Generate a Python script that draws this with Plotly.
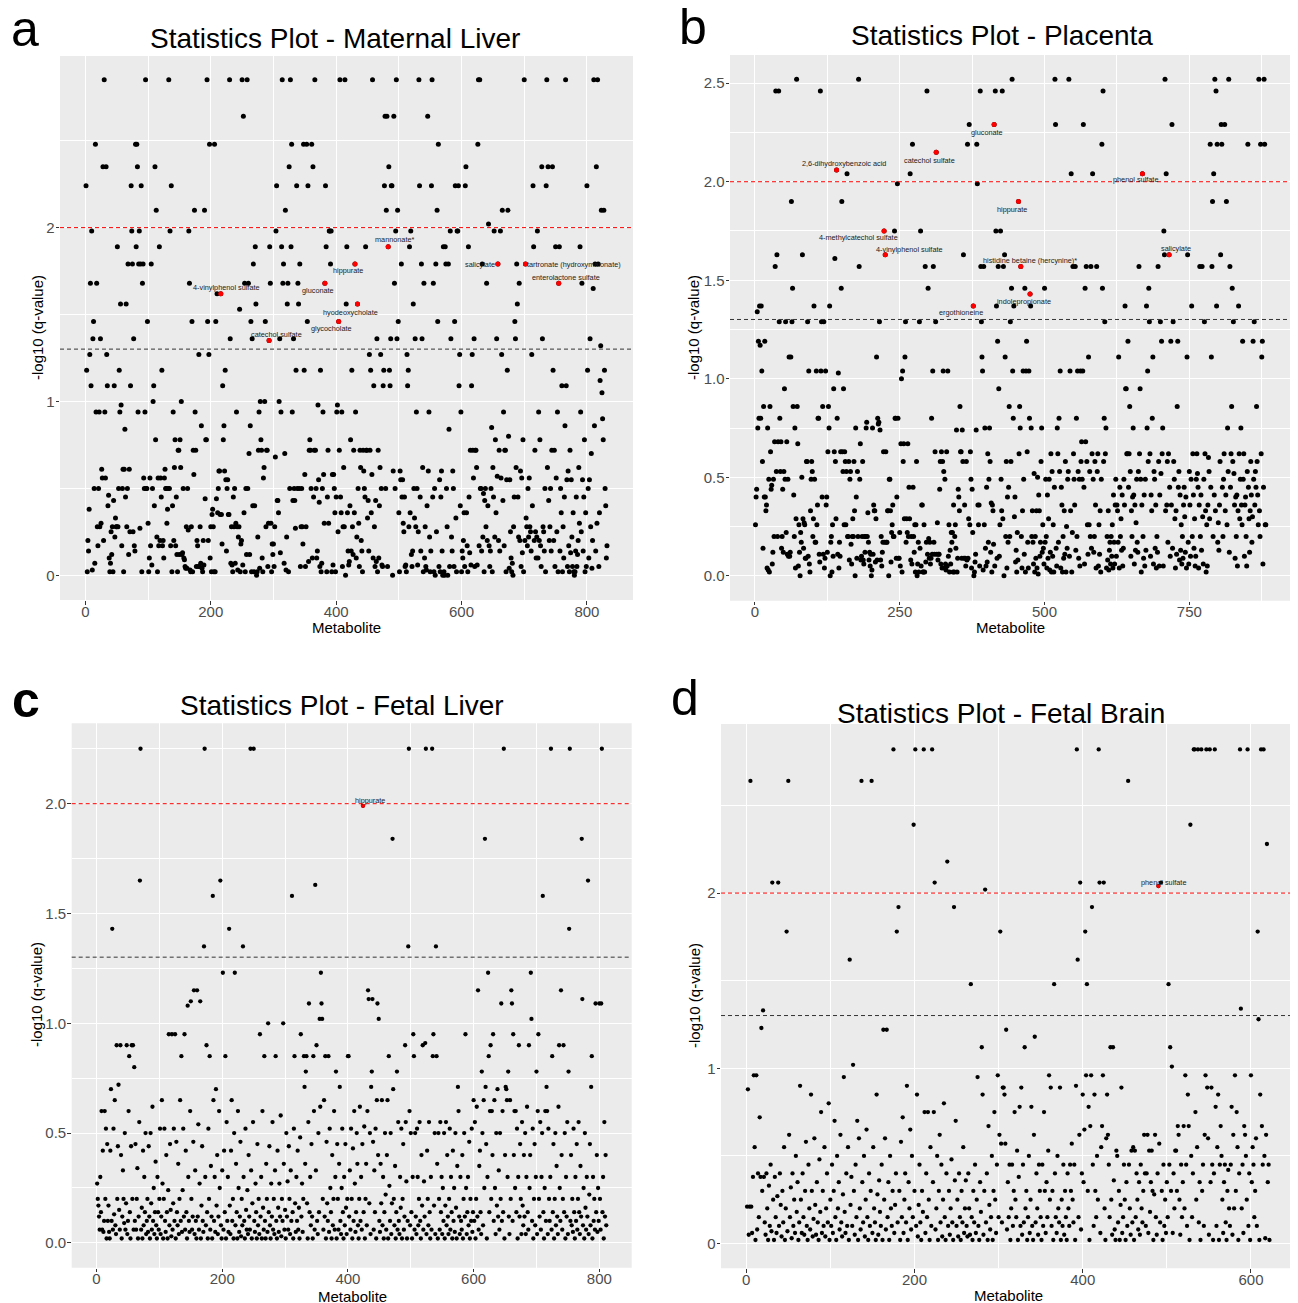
import plotly.graph_objects as go

W, H = 1298, 1303
OFF = 8  # page body margin compensation (px)

# ---------------- data: -log10(q-value) per metabolite, rows of 20 metabolites ----------------
ml_rows = [
 [2.24,1.18,.02,.2,.14,.38,1.27,1.68,1.09,1.98,.03,1.36,1.46,.5,.07,2.48,.94,1.68,.28,.17],
 [.5,.94,.28,1.36,.3,.61,.56,2.35,.2,2.85,.94,.56,2.35,1.27,1.09,.4,.46,.1,.02,.07],
 [.25,.12,.28,.02,.43,1.09,.22,.33,.28,.28,1.89,.28,.5,1.18,.94,1.56,.98,.17,.5,.61],
 [.02,.61,.84,.45,1.56,.28,.5,1.79,.12,.61,.25,1.09,2.24,1.98,1.79,.25,1.36,.17,.14,2.48],
 [1.89,2.48,2.35,.94,1.79,1.98,.27,1.79,2.24,.02,1.68,1.79,.56,.5,.94,2.85,.5,.5,1.46,.3],
 [.02,.1,.56,.17,1.79,.06,.5,1.0,1.09,.4,2.35,.78,2.1,.22,.02,.56,.17,1.89,.2,.56],
 [.45,1.18,.17,.2,.1,.56,.61,.5,.5,.3,.38,.5,2.85,.5,1.98,.17,2.24,.02,.4,.94],
 [.2,.62,.78,.17,.45,.12,.02,.72,.72,.12,.78,.62,1.0,.12,.13,.5,.1,.09,.05,.04],
 [.28,.04,.5,.26,1.98,1.68,.03,.02,.28,1.46,.02,.72,.58,2.1,.94,.72,.05,.2,.17,.05],
 [1.27,.05,.28,.07,.86,.04,.02,.2,.06,2.1,.44,.78,.78,2.85,1.46,.2,1.27,2.48,.1,.28],
 [.02,.35,.38,.28,.02,2.48,.02,1.46,.44,1.62,.36,.5,.6,.6,.35,1.62,.35,.18,1.09,.78],
 [.86,.6,1.18,.55,.14,.5,.55,.35,.35,2.85,1.36,.07,.28,.06,.02,.45,.28,.5,.07,.3],
 [.94,.28,.03,.22,.28,1.53,.02,.18,.2,2.85,.06,2.64,.36,1.68,.02,.5,.12,2.85,.5,1.68],
 [.7,.12,.86,1.46,.02,1.36,.4,1.79,.02,.4,1.89,1.56,0,.02,.22,.72,.94,.04,1.0,.78],
 [.72,.1,.02,.56,.62,1.0,1.46,.28,.72,.72,.05,.3,1.35,1.89,1.68,.3,.02,.18,.12,.18],
 [.05,.28,.68,1.98,2.24,.43,.43,.36,1.0,1.36,.13,.94,1.89,2.85,1.68,1.79,.07,.7,2.1,.03],
 [.22,1.56,1.68,.02,2.35,.5,2.85,1.89,2.48,.94,.43,1.36,.5,.43,.27,1.18,2.24,.5,1.68,1.56],
 [.5,1.79,.05,.28,.5,.28,.18,2.48,1.18,.58,.05,.28,2.48,1.46,2.24,.08,.72,.78,.72,.5],
 [2.48,.1,2.35,.45,.72,2.85,.72,.5,.1,.14,.98,.55,.42,.05,1.18,.02,.07,.5,.94,.58],
 [.3,1.68,2.24,1.89,.02,.45,.72,.3,1.98,1.98,1.79,1.98,.02,.58,.06,.58,.5,.36,.02,.45],
 [.94,.98,.25,1.46,.72,2.85,.45,.36,.94,.05,.28,.62,.28,2.85,0,1.56,1.89,.36,.14,.06],
 [.08,.4,.78,.14,1.18,.28,.12,.72,.36,1.79,.94,.1,.22,1.56,.5,.3,.05,.72,.62,.2],
 [.14,.02,.72,.6,.5,.45,1.89,.72,.72,.33,.43,.14,1.27,.72,1.18,.36,.58,2.85,.1,1.09],
 [.28,.05,.43,.08,1.36,.02,.72,.1,.4,.62,1.27,.5,.06,.05,1.09,1.18,2.24,2.64,.5,2.1],
 [2.64,.05,1.89,2.35,1.18,1.09,1.36,2.24,2.24,0,.6,2.64,1.68,.5,1.98,2.85,1.36,2.1,1.46,.36],
 [.02,.6,.55,1.79,.45,.55,.3,.25,.45,.05,.06,.02,1.27,1.09,1.18,.28,1.89,.36,1.98,.12],
 [.05,.14,1.56,.5,.33,1.36,.28,.94,.5,.06,.25,2.85,2.24,.45,.14,1.79,1.36,.62,.02,1.68],
 [.1,.28,.05,.03,.4,2.64,.6,.94,.22,.02,.14,2.24,2.85,.45,1.68,.02,.5,0,1.79,.25],
 [2.1,1.46,2.48,.05,.55,.02,.45,.6,.14,0,1.89,.02,0,1.89,1.79,.5,.28,0,1.79,.84],
 [.05,1.98,1.36,.22,.14,.6,.5,.05,1.46,2.24,.33,.02,1.98,1.98,2.24,1.09,1.27,.4,.94,.02],
 [.14,.1,.2,.36,.05,2.24,2.35,.36,.17,.02,1.89,.45,.13,.72,.06,1.09,1.27,.72,.56,1.36],
 [.05,.72,.72,.62,.06,2.48,2.85,.17,2.85,.5,.5,.14,1.79,.22,.47,.02,.43,.5,.28,1.68],
 [.2,.4,2.02,.17,.05,.14,.5,.85,.02,.62,.45,1.98,.22,.78,.36,1.36,.57,1.79,.2,.72],
 [.14,1.98,.56,1.27,2.1,.43,.94,.17,.72,.72,.02,.55,1.18,2.1,.8,.04,.55,.25,.1,.02],
 [.07,0,.28,.45,1.46,1.36,.62,1.79,1.56,.45,.22,1.68,.2,.6,.05,.56,.13,.78,.02,2.85],
 [.2,1.79,.33,.28,.17,.5,.22,.56,.28,.25,.14,1.27,.4,2.24,1.89,.2,.72,.25,.1,.22],
 [1.98,.1,.94,.2,.78,.17,.05,2.35,1.36,.28,.25,.14,.5,.02,2.24,2.85,.62,2.35,.43,.2],
 [.28,.5,.14,.72,2.35,1.18,.2,.72,.05,1.89,.56,.25,.94,.02,1.68,1.89,.14,.5,.36,1.09],
 [.02,.28,.1,.45,.86,2.85,1.09,.55,.05,.6,.17,.02,.72,.13,.55,.22,.05,.36,.02,0],
 [.02,.14,.45,.05,.12,.2,.62,.3,1.89,.94,.25,1.68,.55,.14,.45,.78,.02,.36,.05,2.24],
 [1.18,.5,.1,.55,1.36,.28,.7,.04,.2,1.65,2.85,.86,1.79,.14,2.35,.3,2.85,1.79,.05,.36],
 [1.12,1.32,2.1,1.05,.9,.78,2.1,1.18,.5,.4,.1,.17],
]

pl_rows = [
 [.26,.4,.44,1.34,.75,1.19,.8,1.37,1.17,.8,1.37,1.04,.58,.14,.86,.4,1.19,.4,.33,.36],
 [.04,.75,.03,.49,.02,.86,.63,.44,.46,.06,.12,.49,.2,.68,1.57,2.46,.53,1.63,.2,.68],
 [2.46,1.29,.8,.53,.68,.14,.2,.44,.12,.53,.95,.49,1.29,.22,.68,.11,.49,.1,1.11,.1],
 [.12,1.11,1.9,1.29,1.46,.86,.41,.2,.75,.04,.29,2.52,.86,.67,.05,.26,.12,0,.22,.17],
 [.5,1.63,.29,.14,.27,.26,.09,.09,.58,.58,1.29,.1,1.04,.06,.02,.33,.49,.58,.53,.2],
 [.29,1.37,.49,.17,.17,1.04,.26,.36,.8,.8,.11,.07,2.46,1.04,1.29,.4,.86,.11,1.29,.04],
 [.09,1.04,.36,.4,.12,.63,.86,.75,1.37,0,.17,.2,.02,.26,.1,.95,.63,1.61,.58,.29],
 [2.06,.8,.11,1.03,.04,.17,.1,.63,1.46,1.9,.63,.53,.95,.26,.63,.58,.26,.53,2.04,.2],
 [.2,.58,.08,.49,.53,.16,.06,.2,.29,.2,.58,.33,0,.75,.4,.09,.53,.2,2.52,1.57],
 [.49,.67,.08,.1,.2,.58,.08,.06,.2,.12,.2,.75,.78,.2,.32,.17,.08,.12,.05,.11],
 [0,.03,.75,.11,.36,.33,.33,.07,.29,1.11,.08,.8,.77,.78,1.29,.74,.08,.2,.05,.12],
 [.17,.63,1.75,.17,1.63,.63,.17,.17,.33,.33,0,.49,.49,.33,.07,.22,.26,.36,.2,.2],
 [1.75,.8,.8,.09,.4,1.99,.8,.09,.09,.22,.05,.67,1.0,.02,1.04,.58,.67,.29,1.11,1.29],
 [.17,.29,.22,.67,.2,.45,.29,2.04,.08,.2,.06,2.19,.45,.2,.12,.26,.02,.26,.58,0],
 [.06,.17,.02,1.29,.14,1.75,.05,.36,.36,.02,.02,.26,.02,1.57,.07,.17,2.46,.11,1.46,.19],
 [.09,.17,.06,.09,.8,.11,1.04,1.57,.17,.11,.63,1.29,2.15,.11,.27,.08,.11,.11,.44,.58],
 [.06,.63,.04,.58,1.04,.53,.04,.49,.06,.03,.63,.05,1.04,.1,.26,.02,.13,.06,.22,.17],
 [.22,.02,.36,.02,.2,.26,.14,.74,.02,.09,.44,.4,.33,.86,.63,.63,.09,.74,.58,1.63],
 [.09,.36,.09,.05,.58,.08,2.19,.09,.29,2.29,.26,.63,.49,.04,.44,.22,1.37,0,.02,.07],
 [.11,.74,2.19,1.99,.36,.26,.36,.05,2.46,1.57,1.29,1.11,1.04,.03,1.57,.26,.75,.14,.05,.45],
 [.07,.62,.17,.49,.75,.58,.12,.37,.02,.36,.33,.16,2.29,.05,2.46,1.75,1.37,.09,1.19,1.57],
 [.95,.1,.26,1.75,.49,.33,2.46,.29,1.57,0,1.63,1.11,.2,.58,.04,.4,.17,.45,.86,.2],
 [1.29,.58,1.46,2.52,1.04,.8,1.37,.3,.4,.07,.13,.02,.22,.08,1.9,.62,.86,.75,1.57,.2],
 [.04,.33,1.04,.49,.11,1.46,.02,1.04,1.19,.63,.17,.04,1.04,.8,1.43,1.37,.75,.2,.33,.17],
 [.06,.52,.02,.2,.09,.33,.04,.5,.01,.41,.33,.1,.17,.58,.75,.12,.26,.14,.06,1.46],
 [.17,.49,.2,.04,.41,.09,.29,.49,.03,.12,.62,.02,.53,.1,.26,.02,.45,2.52,2.29,.14],
 [.05,.75,.62,.17,.8,.53,1.04,.04,.45,.36,.02,.2,.09,.33,.11,.58,.02,.25,.14,.49],
 [.53,2.52,.1,1.04,.33,2.04,.02,.22,1.57,.62,.49,.36,1.57,.13,.8,.2,1.04,.53,.09,.49],
 [.05,1.04,.58,.68,.49,1.04,2.29,.45,.06,1.46,.68,1.57,.58,.26,.11,1.11,.26,.53,.2,1.57],
 [.14,.62,2.04,.49,.12,.2,.58,.36,.04,1.57,.53,.62,.05,.26,.11,.33,.02,.49,2.19,1.46],
 [2.46,.58,.8,1.29,.62,.75,.04,.2,.08,.33,.03,.13,.17,.06,.2,.1,.26,.04,.41,.17],
 [.06,.36,.49,.1,.36,.33,.17,1.11,.04,.45,.2,.29,.13,.41,.05,.14,.49,.36,1.37,.95],
 [.95,.62,.62,1.19,.45,.62,.86,.53,.1,.33,.2,.4,.75,.41,.06,.36,.13,.27,.49,.17],
 [.12,.53,1.57,.62,.95,.49,.02,.36,2.04,.2,.09,.41,.05,.49,.13,1.37,.75,1.04,.58,1.46],
 [1.29,.62,.1,.41,.33,.8,1.11,.06,.53,.49,.14,.36,.04,.2,.12,1.57,.58,.05,.41,1.29],
 [.52,1.19,.62,.75,.05,1.75,1.63,2.52,.33,2.04,.36,.58,.17,.62,1.63,.45,.1,1.19,.36,2.29],
 [.14,1.29,.58,.49,.29,.04,.33,.11,.86,1.19,.45,.53,.08,.41,.13,.26,.06,.2,.09,.36],
 [.45,.3,.12,.4,.04,1.11,1.63,.17,.06,.53,.36,.1,.49,1.37,.2,.62,.41,.14,.29,.05],
 [.1,.49,.62,.52,.45,.04,.36,1.57,.2,.41,.13,1.57,.3,.06,.49,1.29,.62,.33,.02,.26],
 [.05,.36,.6,.53,.29,2.19,.45,1.11,1.57,1.9,.2,2.04,.41,2.52,.33,2.46,1.37,2.19,.17,.27],
 [.13,.36,.58,1.63,2.29,2.19,.45,.2,.49,.62,2.29,.33,.41,1.9,.26,.75,.53,2.52,.12,1.57],
 [.45,.62,.86,1.46,.58,1.29,.52,.36,.09,.4,.2,.41,.05,.33,1.37,.62,.29,.49,.75,.36],
 [.26,1.19,.49,.62,.1,.36,.4,.2,.05,.53,2.19,.45,.29,.12,.33,.58,.41,.17,.3,1.19],
 [.49,1.29,.36,.53,.45,.86,.58,.41,.26,2.52,.33,.2,2.19,.62,1.11,1.19,.06,.45,2.52,2.19],
 [.26,.26],
]

fl_rows = [
 [.27,.2,.17,.12,.06,.3,.14,.6,.06,.42,.05,.1,.6,.2,.52,.02,.45,.1,.17,.05],
 [.02,.42,.7,.1,1.43,.06,.52,.13,.65,.08,.04,.9,.2,.44,.72,.15,.06,.9,.4,.02],
 [.12,.33,.2,.09,.5,.06,.18,.9,.04,.1,.6,.85,.14,.02,.44,.9,.2,.9,.06,.8],
 [.1,.45,.06,.2,.34,.02,.12,.55,1.65,2.25,.06,.16,.02,.42,.08,.3,.14,.5,.04,.1],
 [.2,.05,.44,.12,.02,.5,.18,.06,.62,.1,.25,.04,.14,.37,.08,.02,.3,.14,.06,.2],
 [.52,.04,.12,.65,.27,.02,.2,.52,.1,.05,.4,.14,.02,.24,.95,.08,.45,.15,.03,.95],
 [.06,.18,.52,.1,.95,.02,.46,.14,.08,.36,.04,.2,.65,.1,.85,.05,.24,.52,.12,.95],
 [.06,.42,.14,.02,1.08,.3,.1,.05,.6,1.1,.2,.06,.12,.46,1.15,.04,.33,.1,.02,1.15],
 [.12,.54,.06,.27,1.1,.02,.17,.44,.1,.05,1.35,2.25,.3,.08,.9,.14,.02,.52,.2,.85],
 [.06,.35,.12,.02,1.58,.65,.1,.3,.05,.7,.17,.4,.04,.12,.6,.25,1.65,.08,.02,.33],
 [1.23,.06,.42,.14,.85,.02,.55,.1,.3,.05,1.43,.17,.04,.42,.65,.1,.2,.02,.5,1.23],
 [.08,.36,.14,.02,.6,.25,.05,.12,.46,.03,.2,.08,1.35,.3,.1,.02,.52,.15,.06,.24],
 [.04,.4,.12,.06,2.25,.33,.02,.18,.55,2.25,.1,.05,.27,.14,.02,.45,.08,.2,.04,.95],
 [.12,.3,.02,.6,.16,.06,.85,.1,.02,.36,.2,.05,1.0,.14,.44,.08,.02,.27,.12,.55],
 [.06,.2,.04,.33,.85,.1,.02,.42,.16,.05,.27,.12,.58,.03,.2,.1,1.0,.36,.06,.15],
 [.02,.5,.12,.28,.06,.44,.2,.04,.33,.1,1.58,.14,.02,.52,.85,.18,.05,.3,.1,.42],
 [.06,.16,.02,.48,.95,.12,.27,.05,.2,.85,.71,.36,.78,.85,.18,.02,.55,1.09,.14,.3],
 [.08,.45,.12,.02,.85,.6,.06,1.63,.33,.9,.1,.04,.5,.14,1.02,.62,1.23,1.09,1.02,.2],
 [.06,.65,.12,.85,.02,.46,.18,.1,.85,.05,.52,.25,.14,.02,.4,.08,.2,.6,.06,.3],
 [.78,.02,.45,.2,.06,.36,.71,.1,.04,.25,.52,.14,.02,.3,.08,.45,.16,.04,.2,.85],
 [.85,.12,.33,.06,.52,.2,.02,.43,.1,.6,.27,.05,.14,.5,.36,.08,.02,.2,.62,.1],
 [.3,.06,.45,1.99,.14,.53,.02,.2,.36,.08,.6,1.15,1.11,.18,.5,.04,.71,.78,1.11,.46],
 [.06,.33,.14,.52,.02,.65,1.09,.4,1.02,.1,.05,.36,.18,.65,.08,.3,.02,.14,.5,.22],
 [.06,.4,.65,.02,.85,.26,.1,.5,.04,.18,1.84,.7,.2,.08,.35,.02,.14,.78,.06,.55],
 [.1,.04,.3,.16,.52,.02,.2,.45,.06,.12,.9,.55,.28,.02,.1,1.35,2.25,.6,.08,.5],
 [.14,.02,.3,.95,.85,.06,.5,.12,.04,.52,.3,.08,.2,.55,.1,.02,.4,.17,.9,.06],
 [.28,.12,.91,2.25,.04,.42,.2,.08,.55,.14,.02,.3,.06,2.25,.85,.95,.17,.5,.04,1.35],
 [.85,.36,.02,.5,.2,.06,.55,.14,.3,.04,.25,.1,.5,.02,.17,.55,.08,.4,.12,.04],
 [.2,.52,.06,.3,.14,.02,.42,.1,.25,.05,.5,.16,.02,.35,.71,.6,.12,.04,.3,.1],
 [.06,.4,.02,.2,.5,.12,.95,.25,.04,.14,.3,.08,.46,.02,.2,.1,.52,.05,.14,.65],
 [.1,.55,.02,.2,.62,.12,1.15,.06,.35,.42,.14,.04,.78,.5,.08,.65,.25,1.84,.71,.45],
 [.02,.3,1.23,.85,.14,.6,.9,.2,.6,.4,.95,.1,.65,.25,.04,.5,.17,.7,.12,.33],
 [.06,.5,.2,1.09,.1,.6,.14,2.25,.02,.4,.71,.7,.65,.3,.78,.12,.04,.65,.2,1.15],
 [1.09,.1,.95,.4,.6,.25,.6,.14,.52,.02,.3,.9,.12,.45,.2,.04,.55,.17,.08,.4],
 [.12,.5,.04,.3,.62,.14,.06,.9,.25,.4,1.23,1.02,.1,.52,.02,.2,.45,.08,.3,.78],
 [.04,.6,.95,.2,.12,.55,.06,.3,.5,1.58,.14,.02,.25,.6,.1,.71,.6,.04,.52,.2],
 [.1,.3,2.25,.06,.85,.14,.45,.02,.2,.5,.08,.35,.12,.04,.62,.9,.25,.1,1.15,.4],
 [.06,.2,.9,.14,.5,.02,.3,.12,.55,.04,.78,1.43,2.25,.1,.4,.08,.2,.05,.52,.14],
 [.02,.3,.1,.45,.06,.2,.55,.14,.04,.35,.12,1.84,1.11,.08,.25,.02,.5,.16,.06,.3],
 [.12,1.65,.04,.22,.45,.08,.71,.85,.02,.3,.1,.2,.06,1.09,.14,.4,.05,.25,.1,1.09],
 [.2,.06,1.09,2.25,.14,.3,.02,.55,.12,.4,.08],
]

fb_rows = [
 [.21,.88,.05,.21,2.64,.21,.06,.38,.96,.55,.02,.96,.08,.4,.15,.72,.38,1.23,.3,1.33],
 [.38,.12,.05,.4,.2,.02,.33,.1,.45,.07,2.06,.25,.02,.38,.15,.06,.27,2.06,.1,.4],
 [.22,.04,.3,.12,.55,.02,.2,1.78,.07,2.64,.62,.15,.32,.03,.4,.1,.25,.06,.5,.18],
 [.35,.02,.12,.9,.25,.06,.4,.15,.05,.3,.58,.1,.02,.45,.2,.08,.85,.3,.04,.14],
 [.6,.22,.05,.35,.12,.02,.48,.18,.75,.06,.3,.1,.55,.04,.2,.4,.12,.8,.02,.25],
 [.1,.45,.06,.3,.7,.15,.02,.5,.2,.35,.08,.62,.12,.04,.28,.95,.18,.06,.4,.1],
 [.55,.02,1.62,.22,.38,.1,1.02,.3,.05,.45,.15,.7,.02,.6,.2,.08,2.64,.35,.12,.5],
 [.04,.25,.65,.15,.02,.4,.1,.3,2.64,.06,.55,.2,.12,.02,.85,.28,.05,.36,.18,.1],
 [.45,.02,1.22,.25,.6,.08,1.22,.15,.35,.02,.5,.2,.1,.3,2.82,.06,.22,.4,1.78,.12],
 [1.92,.3,.02,.58,.15,.72,.06,.25,.4,.12,.9,.02,.35,.2,.65,.08,.5,.15,2.39,.3],
 [2.82,.1,.85,.04,.22,.45,.12,.02,.3,.18,2.82,.75,.06,.4,.15,.75,.25,.02,.55,.1],
 [2.82,.35,.75,2.06,.08,.2,.5,.02,.3,.62,.12,.45,.04,.25,.8,.15,.02,.4,2.18,.1],
 [.3,.05,.2,.48,.12,.02,1.92,.36,.7,.1,.25,.04,.4,.15,.02,.3,.12,.55,.06,.2],
 [.36,.1,.04,.4,.2,.05,1.48,.15,.02,.3,.12,.45,.06,.25,.95,.1,.02,.35,.18,1.12],
 [.85,.05,.3,2.02,.12,.4,.02,.67,.22,.08,.15,.5,.02,.3,.75,.25,.06,.45,.96,.15],
 [.62,1.78,.57,.12,.89,.89,.85,.57,1.22,.08,.35,.15,.45,.02,.2,.45,.1,.3,.75,.25],
 [.15,.53,.02,.38,.78,.1,.89,.05,.45,.12,1.12,.2,.3,.02,.15,.5,.06,.25,.78,.1],
 [.02,.62,1.18,.12,.4,.2,.05,.45,.3,.15,.02,.45,.1,.75,.3,.06,.35,.15,.53,.96],
 [.25,.89,.1,.3,.02,1.48,.4,.15,.06,.5,.2,.12,.89,.02,.25,.1,.45,.05,.3,.15],
 [.02,.4,.2,.1,.45,.3,.57,.25,.12,.45,.02,.9,2.82,1.62,.15,.62,2.06,.08,.4,.85],
 [.35,.65,1.78,.96,1.48,.3,.78,.02,.67,.96,1.92,.45,.1,.85,.3,.15,.5,.25,2.82,2.06],
 [.06,.55,.67,.96,2.06,.2,.02,.6,.85,.62,.45,.15,1.12,.25,.05,1.12,.36,.08,.02,.53],
 [.5,.12,.3,.02,.22,.89,.06,.15,.45,.25,.02,.35,.1,2.64,.45,.2,.05,.53,.12,.55],
 [.02,.53,.15,.4,.25,.08,.35,.05,.45,.2,.12,.3,.62,.4,.1,.4,.62,.06,.53,.18],
 [.35,.53,.3,.02,.28,.62,.15,.05,.4,2.04,.57,.12,2.06,.3,.02,.45,.1,.25,.06,.35],
 [.15,1.48,.45,1.12,.3,1.01,.06,.4,.2,.53,.53,.3,.67,.62,.25,.05,.45,.15,.35,.67],
 [.2,.96,.45,.1,.85,.67,.02,2.39,.5,.15,.4,2.82,2.82,.75,.25,.55,2.82,.12,.35,.02],
 [2.82,.3,.45,.1,.62,.96,2.82,.89,.6,.05,2.82,.35,.89,.45,.02,.4,2.82,.78,.1,.55],
 [.85,.02,.45,.67,.5,.25,.06,.35,.45,.12,.02,.3,.42,.2,.1,.45,.78,.05,.62,.2],
 [.96,.3,.75,.55,.02,.4,2.82,1.34,.2,.45,.06,.67,.62,.5,.25,2.82,.1,.4,.02,.96],
 [.35,.55,.45,.15,.3,.6,.1,1.78,1.28,.02,.85,2.82,.67,.45,2.82,.5,.03,.62,2.28,.35],
 [.45,.02],
]

# significant (labelled, red) metabolites: index + name
ml_sig_idx = [216, 382, 430, 483, 434, 404, 658, 702, 755, 293]
ml_sig_names = ["4-vinylphenol sulfate", "gluconate", "hippurate", "mannonate*",
                "hyodeoxycholate", "glycocholate", "salicylate",
                "tartronate (hydroxymalonate)", "enterolactone sulfate", "catechol sulfate"]
pl_sig_idx = [141, 313, 413, 669, 455, 223, 225, 459, 715, 475, 377]
pl_sig_names = ["2,6-dihydroxybenzoic acid", "catechol sulfate", "gluconate", "phenol sulfate",
                "hippurate", "4-methylcatechol sulfate", "4-vinylphenol sulfate",
                "histidine betaine (hercynine)*", "salicylate", "indolepropionate", "ergothioneine"]
fl_sig_idx = [424]
fl_sig_names = ["hippurate"]
fb_sig_idx = [490]
fb_sig_names = ["phenol sulfate"]

# label offsets (pixels, label centre relative to point) -- styling only
ml_label_off = [(6, -6), (-7, 7), (-7, 6), (7, -7), (-7, 8), (-7, 7), (-18, 0), (49, 0), (7, -6), (7, -6)]
pl_label_off = [(7, -6), (-7, 8), (-7, 8), (-7, 6), (-6, 8), (-26, 7), (24, -5), (9, -6), (7, -6), (-6, 7), (-12, 7)]
fl_label_off = [(7, -5)]
fb_label_off = [(5, -4)]

FONT = "Liberation Sans, Arial, Helvetica, sans-serif"

panels = [
    dict(rows=ml_rows, idx=ml_sig_idx, names=ml_sig_names, off=ml_label_off,
         title="Statistics Plot - Maternal Liver", letter="a",
         dom=(60, 633, 56, 600), xr=(-40.5, 873.5), yr=(-0.142, 2.987),
         xd=200, yd=1, yfmt="", ms=5,
         title_xy=(335, 38.5), letter_xy=(25, 29), xt_xy=(346, 627), yt_xy=(38, 328)),
    dict(rows=pl_rows, idx=pl_sig_idx, names=pl_sig_names, off=pl_label_off,
         title="Statistics Plot - Placenta", letter="b",
         dom=(730, 1291.3, 55, 600.7), xr=(-43, 926), yr=(-0.126, 2.643),
         xd=250, yd=0.5, yfmt=".1f", ms=5,
         title_xy=(1001.5, 35), letter_xy=(693, 27), xt_xy=(1010, 627.5), yt_xy=(694, 328)),
    dict(rows=fl_rows, idx=fl_sig_idx, names=fl_sig_names, off=fl_label_off,
         title="Statistics Plot - Fetal Liver", letter="<b>c</b>",
         dom=(71.7, 631.7, 723.3, 1267.7), xr=(-39.5, 851.5), yr=(-0.113, 2.366),
         xd=200, yd=0.5, yfmt=".1f", ms=4.3,
         title_xy=(342, 705), letter_xy=(26, 700), xt_xy=(352, 1296), yt_xy=(36, 995)),
    dict(rows=fb_rows, idx=fb_sig_idx, names=fb_sig_names, off=fb_label_off,
         title="Statistics Plot - Fetal Brain", letter="d",
         dom=(721, 1294.7, 724, 1268.2), xr=(-30, 652), yr=(-0.141, 2.965),
         xd=200, yd=1, yfmt="", ms=4.3,
         title_xy=(1000.5, 713), letter_xy=(685, 698), xt_xy=(1008, 1295), yt_xy=(695, 996)),
]

fig = go.Figure()
annotations = []
shapes = []


def px(xp, yp):
    return (xp - OFF) / W, 1 - (yp - OFF) / H


for i, p in enumerate(panels, start=1):
    xa = "x" if i == 1 else f"x{i}"
    ya = "y" if i == 1 else f"y{i}"
    xs, ys = [], []
    for k, row in enumerate(p["rows"]):
        for j, v in enumerate(row):
            xs.append(20 * k + j + 1)
            ys.append(v)
    fig.add_trace(go.Scatter(x=xs, y=ys, mode="markers", xaxis=xa, yaxis=ya,
                             marker=dict(color="black", size=p["ms"]),
                             showlegend=False, hoverinfo="x+y"))
    sx = list(p["idx"])
    sy = [p["rows"][(v - 1) // 20][(v - 1) % 20] for v in sx]
    fig.add_trace(go.Scatter(x=sx, y=sy, mode="markers", xaxis=xa, yaxis=ya,
                             marker=dict(color="#FF0000", size=p["ms"]),
                             text=p["names"], showlegend=False, hoverinfo="text+y"))
    for name, xv, yv, (dx, dy) in zip(p["names"], sx, sy, p["off"]):
        annotations.append(dict(x=xv, y=yv, xref=xa, yref=ya, text=name, showarrow=False,
                                xshift=dx, yshift=-dy, xanchor="center", yanchor="middle",
                                font=dict(family=FONT, size=7.3, color="#1a1a1a")))
    # threshold lines
    for yv, col in ((2.0, "#FF0000"), (1.30103, "#333333")):
        shapes.append(dict(type="line", xref=f"{xa} domain", yref=ya, x0=0, x1=1, y0=yv, y1=yv,
                           line=dict(color=col, width=1, dash="4px,3px"), layer="above"))
    x0, x1, y0, y1 = p["dom"]
    dx0, dy1 = px(x0, y1)
    dx1, dy0 = px(x1, y0)
    axis_common = dict(showgrid=True, gridcolor="white", zeroline=False, showline=False,
                       ticks="outside", ticklen=3.5, tickcolor="#333333", tickwidth=1,
                       tickfont=dict(family=FONT, size=15, color="#4D4D4D"), tick0=0)
    fig.layout[("xaxis" if i == 1 else f"xaxis{i}")] = dict(
        domain=[dx0, dx1], range=list(p["xr"]), anchor=ya, dtick=p["xd"],
        gridwidth=1.2, ticklabelstandoff=-6,
        minor=dict(dtick=p["xd"] / 2, tick0=0, showgrid=True, gridcolor="white",
                   gridwidth=0.6, ticks=""), **axis_common)
    fig.layout[("yaxis" if i == 1 else f"yaxis{i}")] = dict(
        domain=[dy1, dy0], range=list(p["yr"]), anchor=xa, dtick=p["yd"],
        tickformat=p["yfmt"], gridwidth=1.2, ticklabelstandoff=-2,
        minor=dict(dtick=p["yd"] / 2, tick0=0, showgrid=True, gridcolor="white",
                   gridwidth=0.6, ticks=""), **axis_common)
    shapes.insert(0, dict(type="rect", xref="paper", yref="paper",
                          x0=dx0, x1=dx1, y0=dy1, y1=dy0,
                          fillcolor="#EBEBEB", line=dict(width=0), layer="below"))
    tx, ty = px(*p["title_xy"])
    annotations.append(dict(x=tx, y=ty, xref="paper", yref="paper", text=p["title"],
                            showarrow=False, xanchor="center", yanchor="middle",
                            font=dict(family=FONT, size=28, color="black")))
    lx, ly = px(*p["letter_xy"])
    annotations.append(dict(x=lx, y=ly, xref="paper", yref="paper", text=p["letter"],
                            showarrow=False, xanchor="center", yanchor="middle",
                            font=dict(family=FONT, size=50, color="black")))
    mx, my = px(*p["xt_xy"])
    annotations.append(dict(x=mx, y=my, xref="paper", yref="paper", text="Metabolite",
                            showarrow=False, xanchor="center", yanchor="middle",
                            font=dict(family=FONT, size=15, color="black")))
    qx, qy = px(*p["yt_xy"])
    annotations.append(dict(x=qx, y=qy, xref="paper", yref="paper", text="-log10 (q-value)",
                            showarrow=False, xanchor="center", yanchor="middle", textangle=-90,
                            font=dict(family=FONT, size=15, color="black")))

fig.update_layout(width=W, height=H, margin=dict(l=0, r=0, t=0, b=0),
                  paper_bgcolor="white", plot_bgcolor="rgba(0,0,0,0)",
                  annotations=annotations, shapes=shapes, showlegend=False,
                  font=dict(family=FONT))

fig.write_html("out.html")
